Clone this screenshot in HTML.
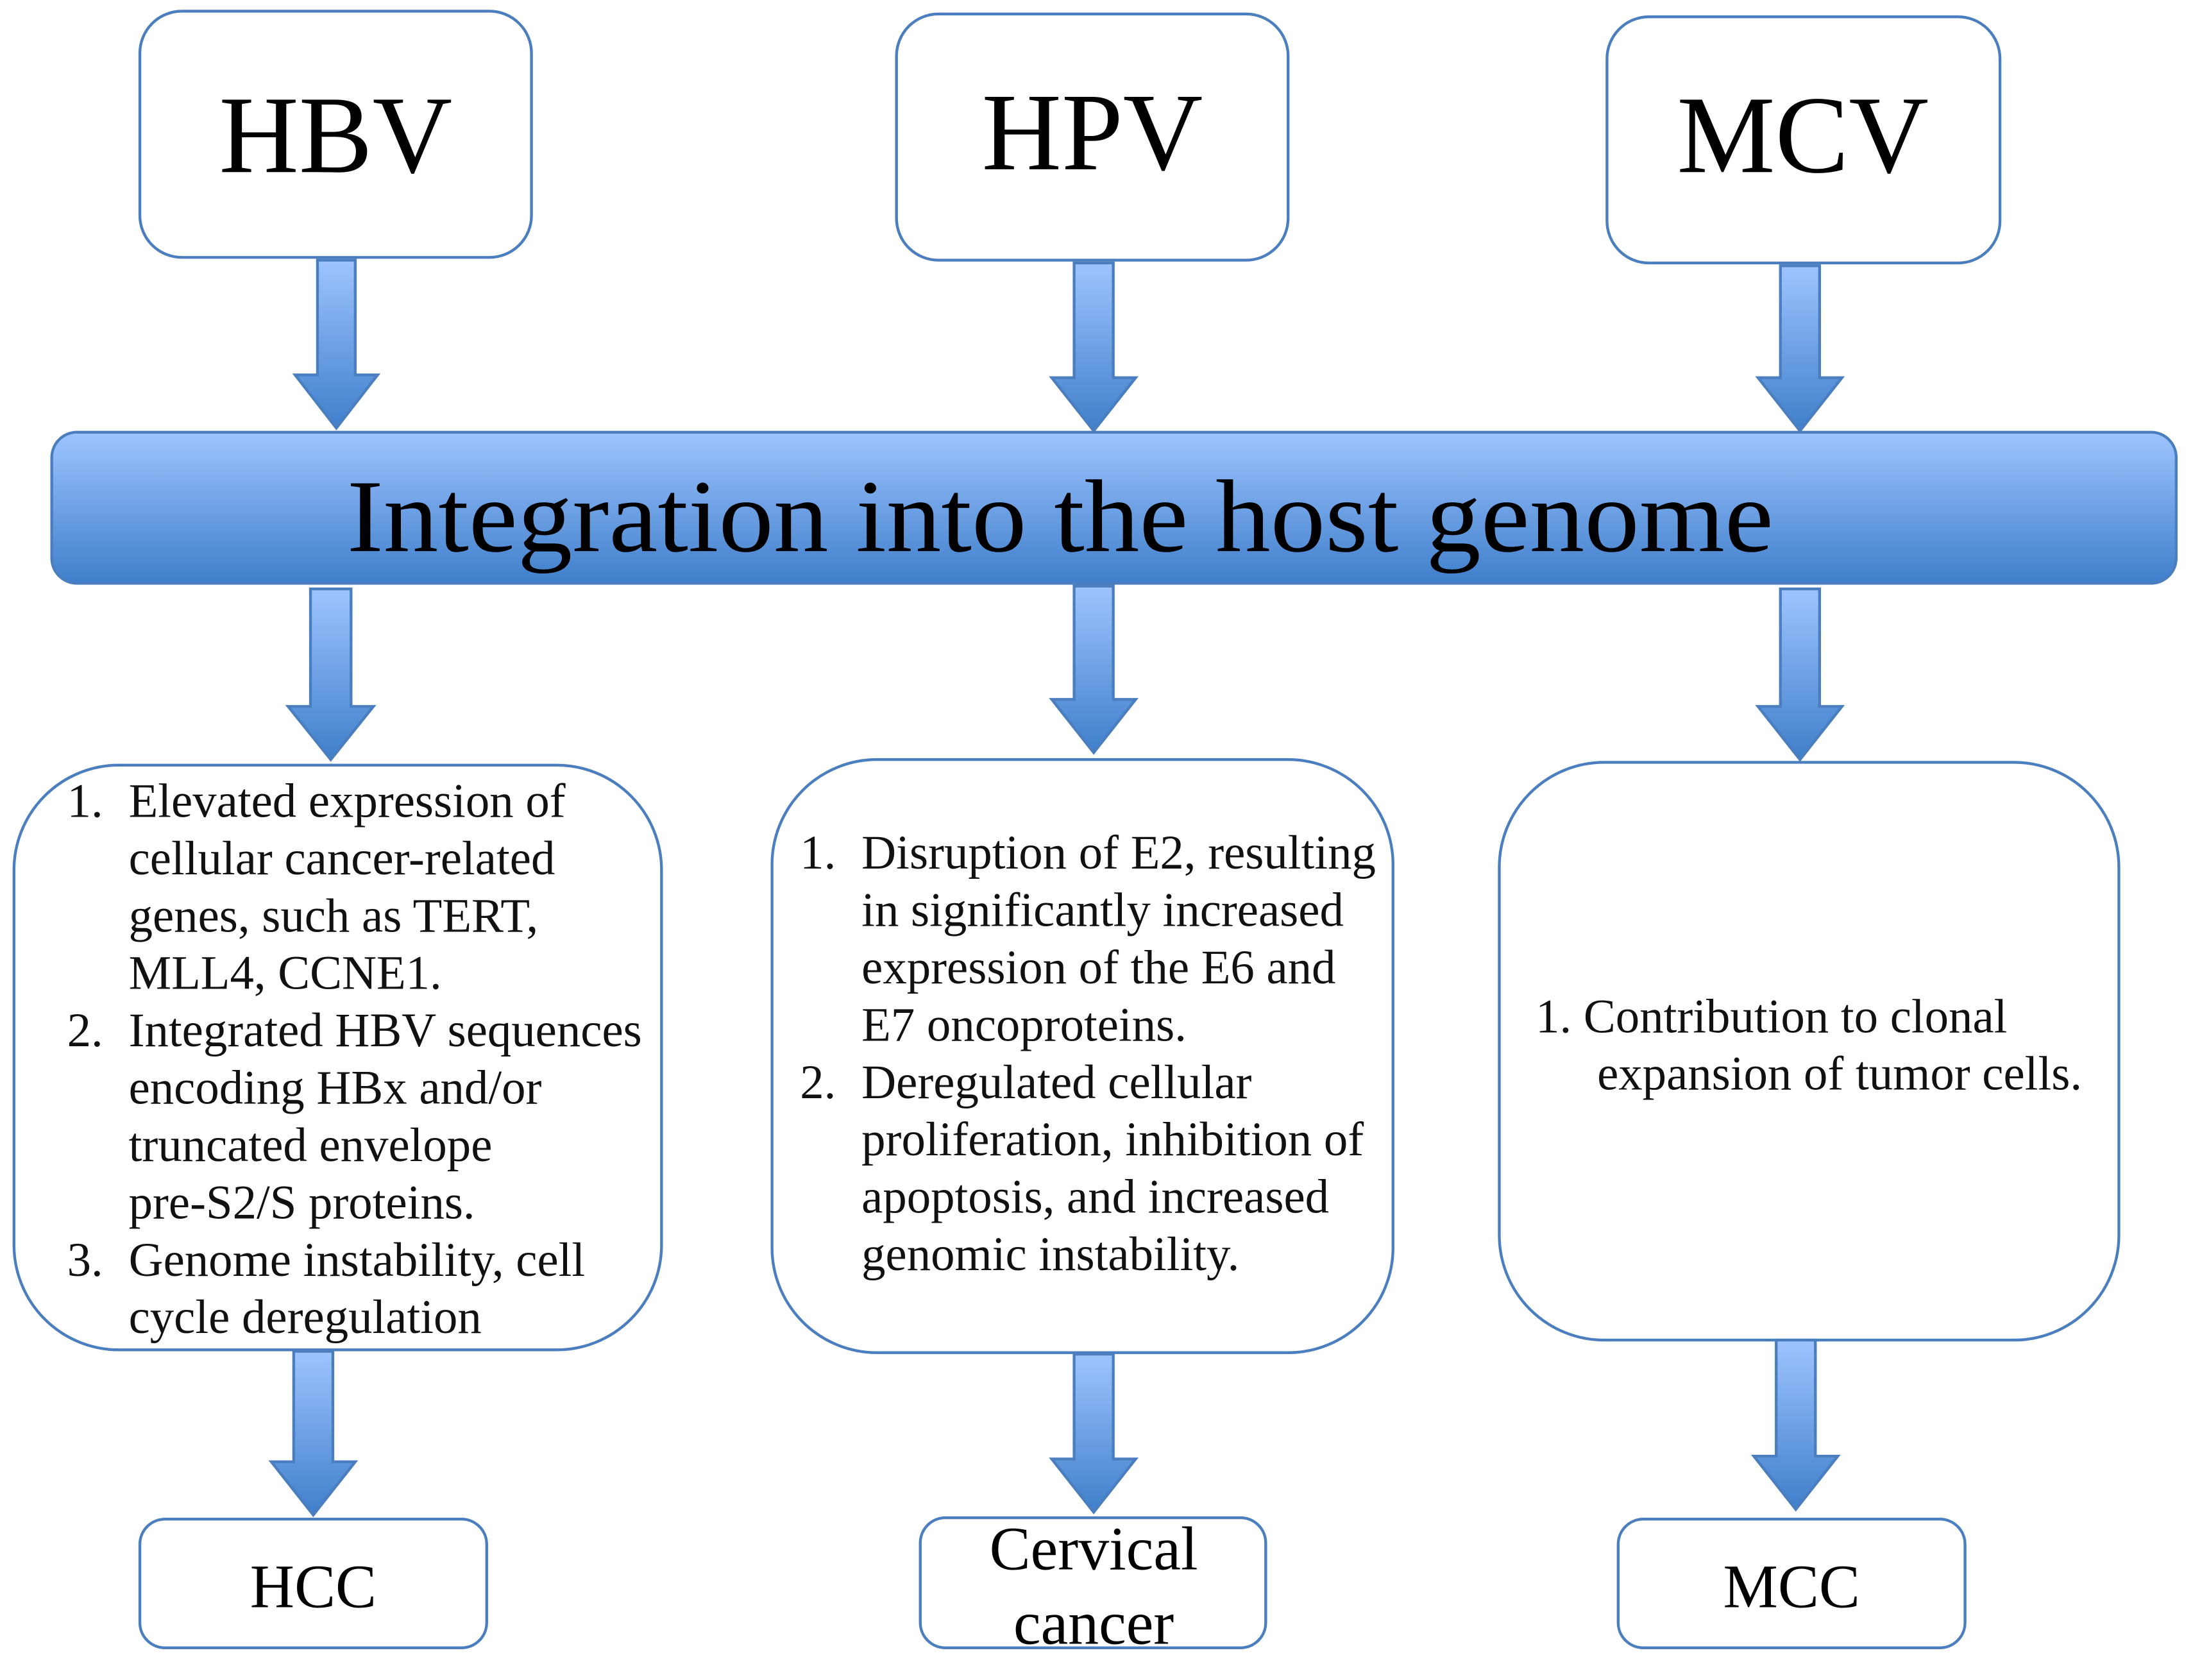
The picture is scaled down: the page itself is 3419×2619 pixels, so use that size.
<!DOCTYPE html>
<html><head><meta charset="utf-8"><style>html,body{margin:0;padding:0;background:#fff}svg{display:block}</style></head>
<body>
<svg width="3419" height="2619" viewBox="0 0 1568 1201" preserveAspectRatio="none" xmlns="http://www.w3.org/2000/svg" font-family="Liberation Serif, serif">
<defs>
<linearGradient id="g" x1="0" y1="0" x2="0" y2="1"><stop offset="0" stop-color="#9ec4ff"/><stop offset="1" stop-color="#3f7fcb"/></linearGradient>
</defs>
<g fill="#fff" stroke="#4a7ebf" stroke-width="2">
<rect x="100" y="8" width="280" height="176" rx="30"/>
<rect x="641" y="10" width="280" height="176" rx="30"/>
<rect x="1149" y="12" width="281" height="176" rx="30"/>
<rect x="10" y="547" width="463" height="418" rx="75"/>
<rect x="552" y="543" width="444" height="424" rx="75"/>
<rect x="1072" y="545" width="443" height="413" rx="75"/>
<rect x="100" y="1086" width="248" height="92" rx="18"/>
<rect x="658" y="1085" width="247" height="93" rx="18"/>
<rect x="1157" y="1086" width="248" height="92" rx="18"/>
</g>
<rect x="37" y="309" width="1519" height="108" rx="18" fill="url(#g)" stroke="#4a7ebf" stroke-width="2"/>
<g fill="url(#g)" stroke="#4a7ebf" stroke-width="2">
<path d="M227 186 H254 V268 H270 L240.5 306 L211 268 H227 Z"/>
<path d="M768 188 H796 V270 H812 L782 308 L752 270 H768 Z"/>
<path d="M1273 190 H1301 V270 H1317 L1287 308 L1257 270 H1273 Z"/>
<path d="M222 421 H251 V505 H267 L236.5 543 L206 505 H222 Z"/>
<path d="M768 419 H796 V500 H812 L782 538 L752 500 H768 Z"/>
<path d="M1273 421 H1301 V505 H1317 L1287 543 L1257 505 H1273 Z"/>
<path d="M210 966 H238 V1045 H254 L224 1083 L194 1045 H210 Z"/>
<path d="M768 968 H796 V1043 H812 L782 1081 L752 1043 H768 Z"/>
<path d="M1270 958 H1298 V1041 H1314 L1284 1079 L1254 1041 H1270 Z"/>
</g>
<g fill="#000" text-anchor="middle" font-size="79">
<text x="240" y="123">HBV</text>
<text x="781" y="121">HPV</text>
<text x="1289" y="123">MCV</text>
</g>
<text x="248" y="394" font-size="74" textLength="1020" lengthAdjust="spacingAndGlyphs">Integration into the host genome</text>
<g font-size="34.3" fill="#111">
<text x="48" y="584">1.</text><text x="92" y="584">Elevated expression of</text>
<text x="92" y="625">cellular cancer-related</text>
<text x="92" y="666">genes, such as TERT,</text>
<text x="92" y="707">MLL4, CCNE1.</text>
<text x="48" y="748">2.</text><text x="92" y="748">Integrated HBV sequences</text>
<text x="92" y="789">encoding HBx and/or</text>
<text x="92" y="830">truncated envelope</text>
<text x="92" y="871">pre-S2/S proteins.</text>
<text x="48" y="912">3.</text><text x="92" y="912">Genome instability, cell</text>
<text x="92" y="953">cycle deregulation</text>
<text x="572" y="621">1.</text><text x="616" y="621">Disruption of E2, resulting</text>
<text x="616" y="662">in significantly increased</text>
<text x="616" y="703">expression of the E6 and</text>
<text x="616" y="744">E7 oncoproteins.</text>
<text x="572" y="785">2.</text><text x="616" y="785">Deregulated cellular</text>
<text x="616" y="826">proliferation, inhibition of</text>
<text x="616" y="867">apoptosis, and increased</text>
<text x="616" y="908">genomic instability.</text>
<text x="1098" y="738">1. Contribution to clonal</text>
<text x="1142" y="779">expansion of tumor cells.</text>
</g>
<g font-size="44" text-anchor="middle" fill="#000">
<text x="224" y="1149">HCC</text>
<text x="782" y="1122">Cervical</text>
<text x="782" y="1175">cancer</text>
<text x="1281" y="1149">MCC</text>
</g>
</svg>
</body></html>
